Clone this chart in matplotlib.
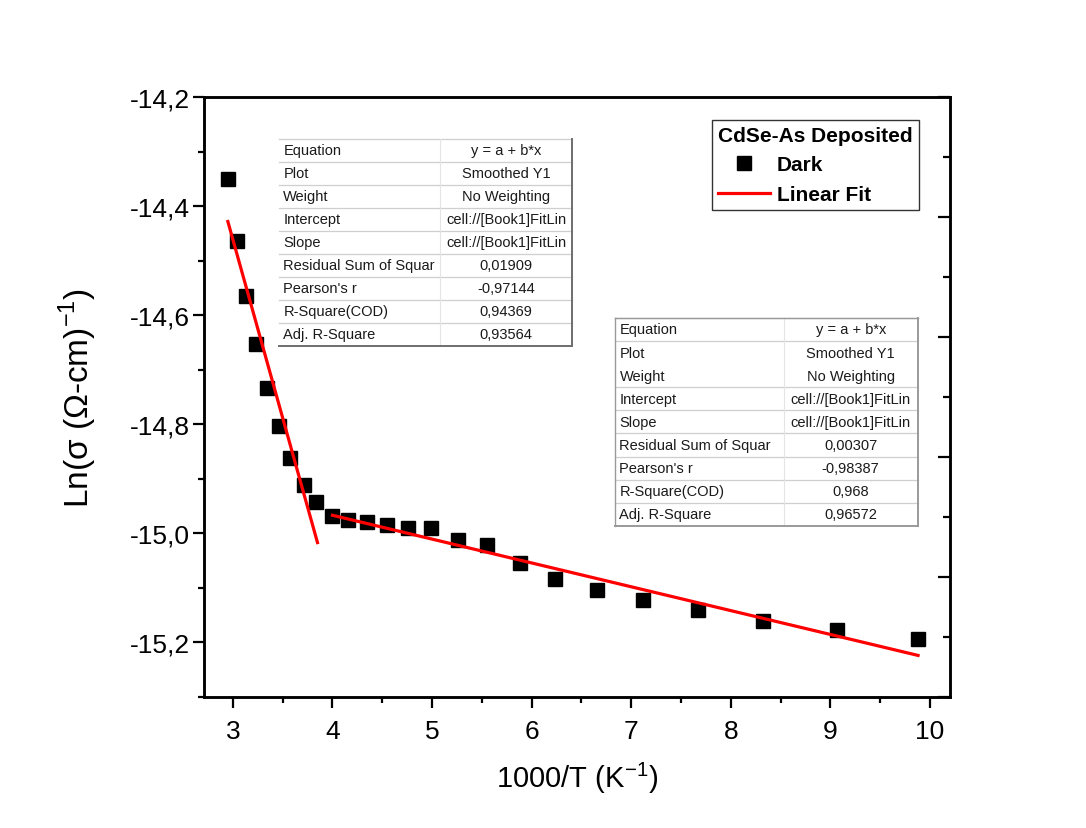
import matplotlib
matplotlib.use("Agg")
import matplotlib.pyplot as plt
from matplotlib.ticker import MultipleLocator, FuncFormatter
from matplotlib.lines import Line2D

# measured points: 1000/T vs Ln(sigma)
inv_t = [2.95, 3.04, 3.13, 3.23, 3.34, 3.46, 3.57, 3.71, 3.84, 4.00, 4.16, 4.35, 4.55,
         4.76, 4.99, 5.26, 5.55, 5.88, 6.23, 6.66, 7.12, 7.67, 8.32, 9.07, 9.88]
ln_sigma = [-14.350, -14.464, -14.565, -14.653, -14.734, -14.804, -14.862, -14.912,
            -14.943, -14.969, -14.976, -14.980, -14.985, -14.991, -14.991, -15.013,
            -15.022, -15.055, -15.084, -15.103, -15.123, -15.141, -15.160, -15.178,
            -15.194]

# linear fits (intercept, slope, x range)
fit1_a, fit1_b = -12.499, -0.654
fit1_x = [2.95, 3.85]
fit2_a, fit2_b = -14.792, -0.0437
fit2_x = [4.00, 9.88]

table_keys = ["Equation", "Plot", "Weight", "Intercept", "Slope",
              "Residual Sum of Squar", "Pearson's r", "R-Square(COD)", "Adj. R-Square"]
table1_vals = ["y = a + b*x", "Smoothed Y1", "No Weighting", "cell://[Book1]FitLin",
               "cell://[Book1]FitLin", "0,01909", "-0,97144", "0,94369", "0,93564"]
table2_vals = ["y = a + b*x", "Smoothed Y1", "No Weighting", "cell://[Book1]FitLin",
               "cell://[Book1]FitLin", "0,00307", "-0,98387", "0,968", "0,96572"]

plt.rcParams["font.family"] = ["Liberation Sans", "DejaVu Sans"]
plt.rcParams["mathtext.fontset"] = "custom"
plt.rcParams["mathtext.rm"] = "Liberation Sans"

fig = plt.figure(figsize=(10.86, 8.29), dpi=100)
ax = fig.add_axes([0.1878, 0.158, 0.6869, 0.7238])

ax.plot(inv_t, ln_sigma, linestyle="none", marker="s", markersize=10,
        color="black", label="Dark", zorder=3)
ax.plot(fit1_x, [fit1_a + fit1_b * x for x in fit1_x], color="red", lw=2.3, zorder=4)
ax.plot(fit2_x, [fit2_a + fit2_b * x for x in fit2_x], color="red", lw=2.3, zorder=4)

ax.set_xlim(2.71, 10.2)
ax.set_ylim(-15.3, -14.2)
ax.xaxis.set_major_locator(MultipleLocator(1))
ax.xaxis.set_minor_locator(MultipleLocator(0.5))
ax.yaxis.set_major_locator(MultipleLocator(0.2))
ax.yaxis.set_minor_locator(MultipleLocator(0.1))
ax.yaxis.set_major_formatter(FuncFormatter(lambda v, p: f"{v:.1f}".replace(".", ",")))
ax.xaxis.set_major_formatter(FuncFormatter(lambda v, p: f"{v:.0f}"))

ax.tick_params(which="both", direction="out", top=False, right=False, width=1.6,
               labelsize=19)
ax.tick_params(which="major", length=8)
ax.tick_params(which="minor", length=4)
ax.tick_params(axis="x", which="major", pad=8)
ax.tick_params(axis="y", which="major", pad=2)
for s in ax.spines.values():
    s.set_linewidth(1.8)

ax.set_xlabel(r"1000/T (K$^{\mathregular{-1}}$)", fontsize=21, labelpad=12)
ax.set_ylabel(r"Ln(σ (Ω-cm)$^{\mathregular{-1}}$)", fontsize=24, labelpad=22)

# right axis, ticks only
ax2 = ax.twinx()
ax2.set_ylim(0, 5)
ax2.yaxis.set_major_locator(MultipleLocator(1))
ax2.yaxis.set_minor_locator(MultipleLocator(0.5))
ax2.tick_params(which="both", direction="in", labelright=False, width=1.6)
ax2.tick_params(which="major", length=9)
ax2.tick_params(which="minor", length=5)
for s in ax2.spines.values():
    s.set_linewidth(1.8)

# legend
handles = [Line2D([], [], linestyle="none", marker="s", markersize=10, color="black"),
           Line2D([], [], color="red", lw=2.3)]
leg = ax.legend(handles, ["Dark", "Linear Fit"], title="CdSe-As Deposited",
                loc="upper left", bbox_to_anchor=(0.681, 0.962), borderaxespad=0,
                prop={"weight": "bold", "size": 15}, frameon=True, fancybox=False,
                edgecolor="black", handlelength=2.5, handletextpad=0.3,
                borderpad=0.3, labelspacing=0.5, alignment="left")
leg.get_title().set_fontweight("bold")
leg.get_title().set_fontsize(15)
leg.get_frame().set_linewidth(1.0)
leg.set_zorder(6)


def draw_table(x0, y_top, w, h, split, vals, full_border, skip=()):
    n = len(table_keys)
    rh = h / n
    kw = dict(transform=ax.transAxes, fontsize=10.5, color="#1a1a1a", va="center", zorder=5)
    for i, (k, v) in enumerate(zip(table_keys, vals)):
        yc = y_top - (i + 0.5) * rh
        ax.text(x0 + 0.006, yc, k, ha="left", **kw)
        ax.text(x0 + split + (w - split) / 2, yc, v, ha="center", **kw)
    lk = dict(transform=ax.transAxes, color="#cfcfcf", lw=0.9, zorder=5)
    for i in range(0, n):
        if i in skip:
            continue
        y = y_top - i * rh
        ax.plot([x0, x0 + w], [y, y], **lk)
    ax.plot([x0 + split, x0 + split], [y_top, y_top - h], transform=ax.transAxes,
            color="#e4e4e4", lw=0.8, zorder=5)
    edge = "#9a9a9a" if full_border else "#6e6e6e"
    ax.plot([x0 + w, x0 + w], [y_top, y_top - h], transform=ax.transAxes,
            color=edge, lw=1.4, zorder=5)
    ax.plot([x0, x0 + w], [y_top - h, y_top - h], transform=ax.transAxes,
            color=edge, lw=1.4, zorder=5)
    if full_border:
        ax.plot([x0, x0], [y_top, y_top - h], transform=ax.transAxes,
                color=edge, lw=1.0, zorder=5)
        ax.plot([x0, x0 + w], [y_top, y_top], transform=ax.transAxes,
                color=edge, lw=1.0, zorder=5)


draw_table(0.1005, 0.930, 0.3928, 0.345, 0.216, table1_vals, False)
draw_table(0.551, 0.632, 0.406, 0.347, 0.226, table2_vals, True, skip=(2,))

fig.savefig("out.png", dpi=100)
